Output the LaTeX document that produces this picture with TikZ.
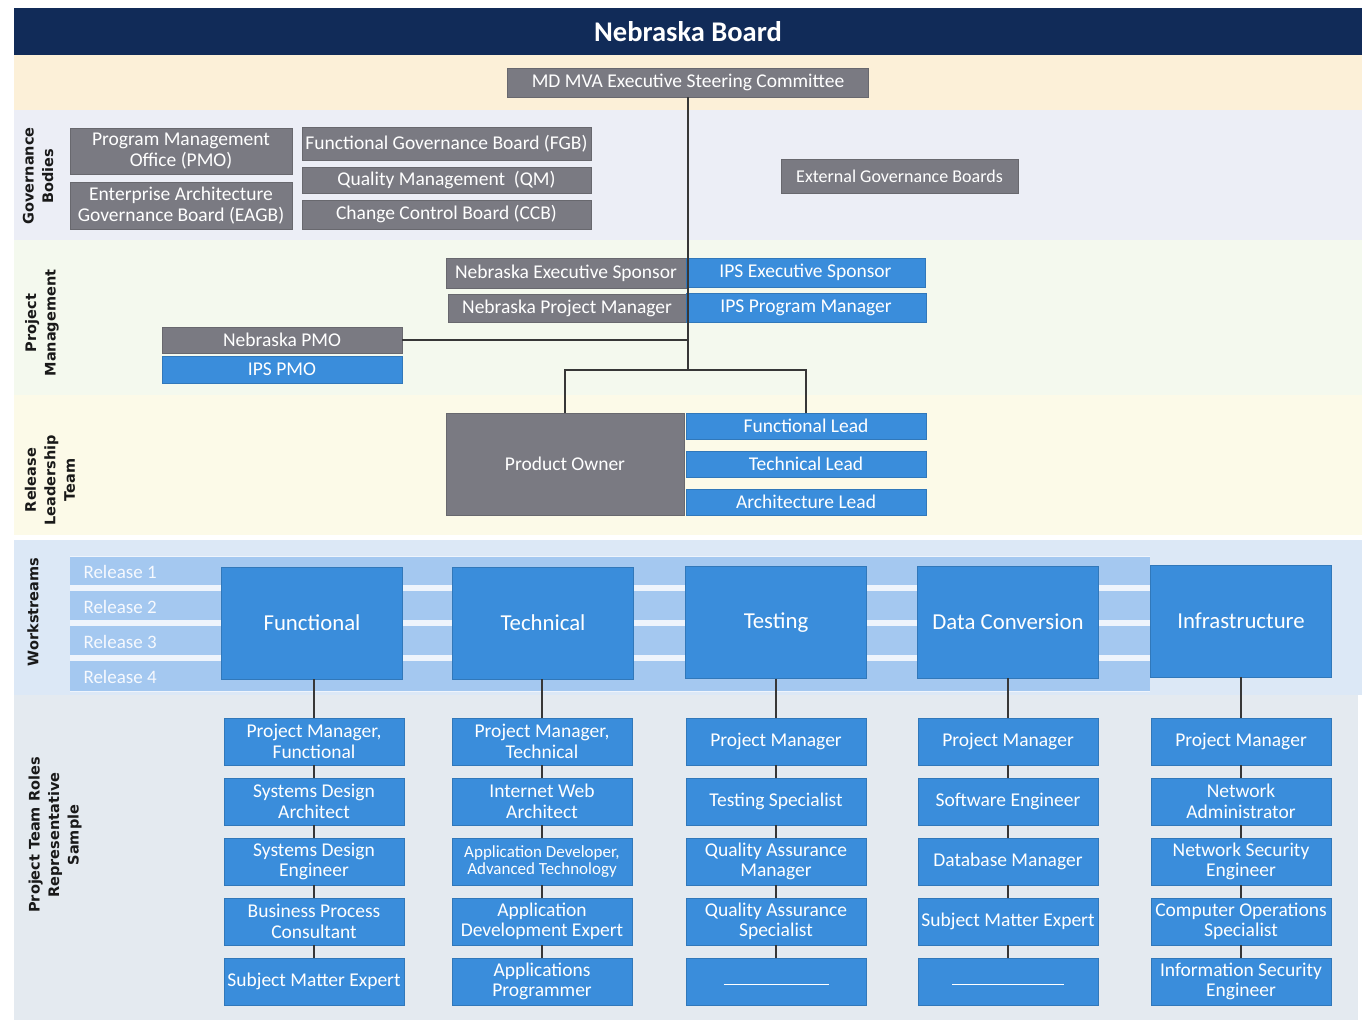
\documentclass[tikz,border=0pt]{standalone}
\usepackage{fontspec}
\setmainfont{Carlito}
\newfontfamily\sidefont{DejaVu Sans}
\definecolor{navy}{RGB}{17,43,88}
\definecolor{bandtan}{RGB}{252,240,216}
\definecolor{bandgov}{RGB}{236,238,246}
\definecolor{bandpm}{RGB}{244,249,238}
\definecolor{bandrel}{RGB}{252,250,232}
\definecolor{bandws}{RGB}{220,232,246}
\definecolor{bandroles}{RGB}{228,234,240}
\definecolor{boxgray}{RGB}{122,122,130}
\definecolor{boxblue}{RGB}{58,141,219}
\definecolor{relbar}{RGB}{164,200,240}
\definecolor{relgap}{RGB}{238,244,252}
\definecolor{reltext}{RGB}{246,249,254}
\definecolor{connc}{RGB}{55,55,55}
\begin{document}
\begin{tikzpicture}[x=1pt,y=-1pt,
  base/.style={inner sep=0pt, align=center, text=white, font=\fontsize{19.5}{20.5}\selectfont},
  gbox/.style={base, fill=boxgray, draw=boxgray!85!black, line width=0.6pt},
  bbox/.style={base, fill=boxblue, draw=boxblue!85!black, line width=0.6pt},
  wsbox/.style={bbox, minimum width=181pt, minimum height=112pt, font=\fontsize{22.8}{24}\selectfont},
  rolebox/.style={bbox, minimum width=180pt, minimum height=47pt, font=\fontsize{19.5}{20.5}\selectfont},
  side/.style={rotate=90, align=center, text=black!90, font=\sidefont\bfseries\fontsize{14.5}{19.5}\selectfont},
  rel/.style={anchor=west, text=reltext, font=\fontsize{19}{19}\selectfont},
  conn/.style={draw=connc, line width=1.1pt}
]
\useasboundingbox (0,0) rectangle (1367,1025);
\fill[white] (0,0) rectangle (1367,1025);

% horizontal bands
\fill[navy]      (14,8)   rectangle (1362,55);
\fill[bandtan]   (14,55)  rectangle (1362,110);
\fill[bandgov]   (14,110) rectangle (1362,240);
\fill[bandpm]    (14,240) rectangle (1362,395);
\fill[bandrel]   (14,395) rectangle (1362,535);
\fill[bandws]    (14,540) rectangle (1362,695);
\fill[bandroles] (14,695) rectangle (1358,1020);

\node[text=white, font=\bfseries\fontsize{28.5}{30}\selectfont] (title) at (688,32) {Nebraska Board};

% section labels
\node[side] (lgov)   at (38,176) {Governance\\Bodies};
\node[side] (lpm)    at (42,323) {Project\\Management};
\node[side] (lrel)   at (50,480) {Release\\Leadership\\Team};
\node[side] (lws)    at (33,612) {Workstreams};
\node[side] (lroles) at (55,835) {Project Team Roles\\Representative\\Sample};

% governance
\node[gbox, minimum width=361pt, minimum height=29pt] (steer) at (688,82.5) {MD MVA Executive Steering Committee};
\node[gbox, minimum width=222pt, minimum height=46pt] (pmo) at (181,151) {Program Management\\Office (PMO)};
\node[gbox, minimum width=222pt, minimum height=47pt] (eagb) at (181,205.5) {Enterprise Architecture\\Governance Board (EAGB)};
\node[gbox, minimum width=289pt, minimum height=33pt] (fgb) at (446.5,143.5) {Functional Governance Board (FGB)};
\node[gbox, minimum width=289pt, minimum height=26pt] (qm)  at (446.5,180) {Quality Management~~(QM)};
\node[gbox, minimum width=289pt, minimum height=29pt] (ccb) at (446.5,214.5) {Change Control Board (CCB)};
\node[gbox, minimum width=237pt, minimum height=34pt, font=\fontsize{18}{18}\selectfont] (ext) at (899.5,176) {External Governance Boards};

% project management
\node[gbox, minimum width=240pt, minimum height=30pt] (nes)  at (566,273) {Nebraska Executive Sponsor};
\node[bbox, minimum width=239pt, minimum height=29pt] (ies)  at (805.5,272.5) {IPS Executive Sponsor};
\node[gbox, minimum width=238pt, minimum height=28pt] (npm)  at (567,308) {Nebraska Project Manager};
\node[bbox, minimum width=240pt, minimum height=29pt] (ipm)  at (806,307.5) {IPS Program Manager};
\node[gbox, minimum width=240pt, minimum height=26pt] (npmo) at (282,340) {Nebraska PMO};
\node[bbox, minimum width=240pt, minimum height=27pt] (ipmo) at (282,369.5) {IPS PMO};

% release leadership
\node[gbox, minimum width=238pt, minimum height=102pt] (po) at (565,464) {Product Owner};
\node[bbox, minimum width=240pt, minimum height=26pt] (fl) at (806,426) {Functional Lead};
\node[bbox, minimum width=240pt, minimum height=26pt] (tl) at (806,464) {Technical Lead};
\node[bbox, minimum width=240pt, minimum height=26pt] (al) at (806,502) {Architecture Lead};

% reporting lines
\coordinate (j) at (688,370);
\draw[conn] (steer.south) -- (j);
\draw[conn] (npmo.east) -- (npmo.east -| j);
\draw[conn] (po.north) |- (j) -| (fl.north);

% release bars behind the workstreams
\fill[relgap] (70,556) rectangle (1150,692);
\foreach \i/\a/\b in {1/557/585, 2/591/620, 3/626/655, 4/661/691}{
  \fill[relbar] (70,\a) rectangle (1150,\b);
}
\node[rel] (r1) at (80,571.5) {Release 1};
\node[rel] (r2) at (80,606.5) {Release 2};
\node[rel] (r3) at (80,641.5) {Release 3};
\node[rel] (r4) at (80,677) {Release 4};

% workstreams
\node[wsbox] (ws1) at (312,623) {Functional};
\node[wsbox] (ws2) at (543,623) {Technical};
\node[wsbox] (ws3) at (776,622.5) {Testing};
\node[wsbox] (ws4) at (1008,622) {Data Conversion};
\node[wsbox] (ws5) at (1241,621) {Infrastructure};

% project team roles
\def\rowA{741.5}\def\rowB{801.5}\def\rowC{861.5}\def\rowD{921.5}\def\rowE{981.5}
\node[rolebox] (a1) at (314,\rowA) {Project Manager,\\Functional};
\node[rolebox] (a2) at (314,\rowB) {Systems Design\\Architect};
\node[rolebox] (a3) at (314,\rowC) {Systems Design\\Engineer};
\node[rolebox] (a4) at (314,\rowD) {Business Process\\Consultant};
\node[rolebox] (a5) at (314,\rowE) {Subject Matter Expert};

\node[rolebox] (b1) at (542,\rowA) {Project Manager,\\Technical};
\node[rolebox] (b2) at (542,\rowB) {Internet Web\\Architect};
\node[rolebox, font=\fontsize{17}{17}\selectfont] (b3) at (542,\rowC) {Application Developer,\\Advanced Technology};
\node[rolebox] (b4) at (542,\rowD) {Application\\Development Expert};
\node[rolebox] (b5) at (542,\rowE) {Applications\\Programmer};

\node[rolebox] (c1) at (776,\rowA) {Project Manager};
\node[rolebox] (c2) at (776,\rowB) {Testing Specialist};
\node[rolebox] (c3) at (776,\rowC) {Quality Assurance\\Manager};
\node[rolebox] (c4) at (776,\rowD) {Quality Assurance\\Specialist};
\node[rolebox] (c5) at (776,\rowE) {\raisebox{-6pt}{\rule{105pt}{0.9pt}}};

\node[rolebox] (d1) at (1008,\rowA) {Project Manager};
\node[rolebox] (d2) at (1008,\rowB) {Software Engineer};
\node[rolebox] (d3) at (1008,\rowC) {Database Manager};
\node[rolebox] (d4) at (1008,\rowD) {Subject Matter Expert};
\node[rolebox] (d5) at (1008,\rowE) {\raisebox{-6pt}{\rule{112pt}{0.9pt}}};

\node[rolebox] (e1) at (1241,\rowA) {Project Manager};
\node[rolebox] (e2) at (1241,\rowB) {Network\\Administrator};
\node[rolebox] (e3) at (1241,\rowC) {Network Security\\Engineer};
\node[rolebox] (e4) at (1241,\rowD) {Computer Operations\\Specialist};
\node[rolebox] (e5) at (1241,\rowE) {Information Security\\Engineer};

% column connectors
\foreach \c/\w in {a/ws1, b/ws2, c/ws3, d/ws4, e/ws5}{
  \draw[conn] (\w.south -| \c1.north) -- (\c1.north);
  \draw[conn] (\c1.south) -- (\c2.north);
  \draw[conn] (\c2.south) -- (\c3.north);
  \draw[conn] (\c3.south) -- (\c4.north);
  \draw[conn] (\c4.south) -- (\c5.north);
}
\end{tikzpicture}
\end{document}
